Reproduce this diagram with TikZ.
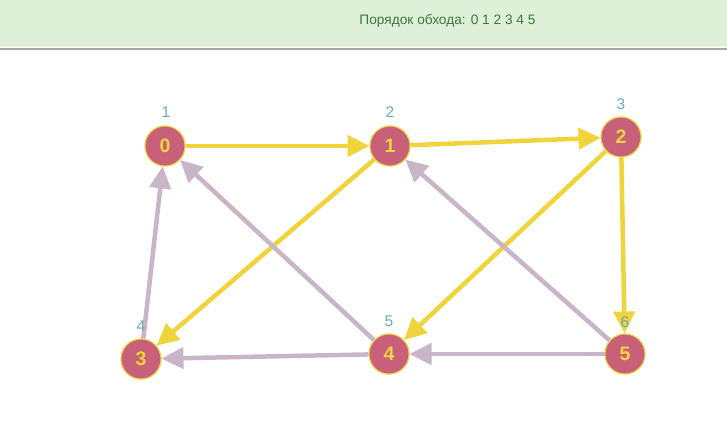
\documentclass[tikz,border=0pt]{standalone}
\usepackage{fontspec}
\setmainfont{Liberation Sans}
\usetikzlibrary{arrows.meta}
\definecolor{hdrbg}{HTML}{DFF0D8}
\definecolor{hdrline}{HTML}{D6E9C6}
\definecolor{hdrtext}{HTML}{3C763D}
\definecolor{treeedge}{HTML}{F0D43C}
\definecolor{backedge}{HTML}{C8B6C8}
\definecolor{vfill}{HTML}{C8607A}
\definecolor{vlabel}{HTML}{6AAAB8}
\tikzset{
  vertex/.style={circle, minimum size=40pt, inner sep=0pt, fill=vfill, draw=treeedge, line width=1pt,
    text=treeedge, font=\fontsize{19.5}{19.5}\selectfont\bfseries},
  order/.style={text=vlabel, font=\fontsize{15.5}{15.5}\selectfont, inner sep=0pt},
  tree/.style={draw=treeedge, line width=4.5pt, -{Triangle[length=22pt,width=21pt]}},
  back/.style={draw=backedge, line width=4.5pt, -{Triangle[length=22pt,width=21pt]}},
}
\begin{document}
\begin{tikzpicture}[x=1pt,y=-1pt]
\useasboundingbox (0,0) rectangle (727,421);
\fill[white] (0,0) rectangle (727,421);
\fill[hdrbg] (0,0) rectangle (727,45.5);
\draw[hdrline, line width=1pt] (0,45.5) -- (727,45.5);
\draw[black!35, line width=2pt] (0,48.5) -- (727,48.5);
\node[text=hdrtext, font=\fontsize{13.7}{13.7}\selectfont] (hdr) at (447.5,20.5) {Порядок обхода: 0 1 2 3 4 5};

\node[vertex] (v0) at (165,146) {0};
\node[vertex] (v1) at (390,146) {1};
\node[vertex] (v2) at (621,137) {2};
\node[vertex] (v3) at (141,359) {3};
\node[vertex] (v4) at (389,354) {4};
\node[vertex] (v5) at (625,354) {5};

\draw[tree] (v0) -- (v1);
\draw[tree] (v1) -- (v2);
\draw[tree] (v1) -- (v3);
\draw[tree] (v2) -- (v4);
\draw[tree] (v2) -- (v5);
\draw[back] (v3) -- (v0);
\draw[back] (v4) -- (v0);
\draw[back] (v4) -- (v3);
\draw[back] (v5) -- (v4);
\draw[back] (v5) -- (v1);

\node[vertex] at (v0) {0};
\node[vertex] at (v1) {1};
\node[vertex] at (v2) {2};
\node[vertex] at (v3) {3};
\node[vertex] at (v4) {4};
\node[vertex] at (v5) {5};

\node[order] (o0) at (166,112) {1};
\node[order] (o1) at (390,112) {2};
\node[order] (o2) at (621,104) {3};
\node[order] (o3) at (141,326) {4};
\node[order] (o4) at (389,321) {5};
\node[order] (o5) at (625,322) {6};
\end{tikzpicture}
\end{document}
